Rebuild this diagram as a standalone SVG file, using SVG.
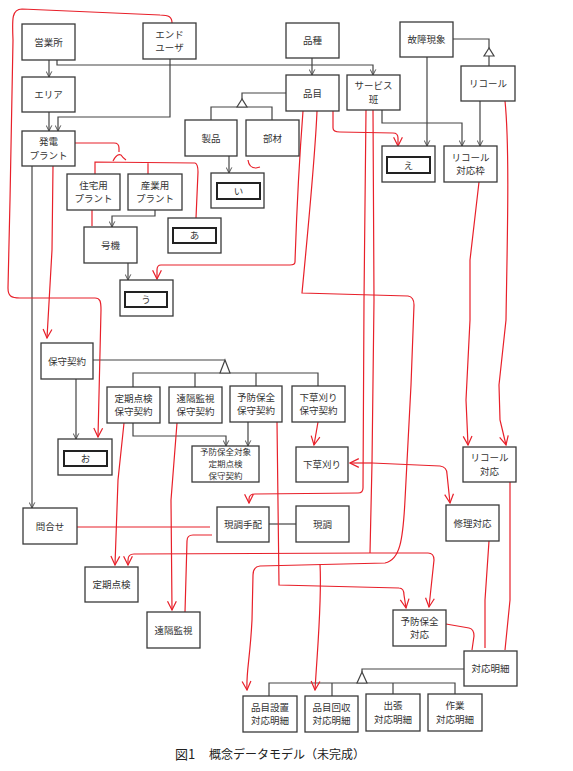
<svg xmlns="http://www.w3.org/2000/svg" width="573" height="771" viewBox="0 0 573 771">
<style>
.b{fill:#fff;stroke:#3a3a3a;stroke-width:1.3}
.in{fill:#fff;stroke:#222;stroke-width:2}
.t{font-family:"Noto Sans CJK JP","Noto Sans",sans-serif;font-size:9.5px;fill:#333;text-anchor:middle}
.t3{font-family:"Noto Sans CJK JP","Noto Sans",sans-serif;font-size:8.5px;fill:#333;text-anchor:middle}
.k{fill:none;stroke:#444;stroke-width:1.2}
.r{fill:none;stroke:#e8202a;stroke-width:1.2}
.tri{fill:#fff;stroke:#444;stroke-width:1.2}
.cap{font-family:"Noto Sans CJK JP","Noto Sans",sans-serif;fill:#222}
</style>
<defs>
<marker id="ab" viewBox="0 0 10 10" refX="9" refY="5" markerWidth="7" markerHeight="7" orient="auto" markerUnits="userSpaceOnUse"><path d="M1,1 L9,5 L1,9" fill="none" stroke="#444" stroke-width="1.3"/></marker>
<marker id="ar" viewBox="0 0 10 10" refX="9" refY="5" markerWidth="11" markerHeight="11" orient="auto" markerUnits="userSpaceOnUse"><path d="M1,1 L9,5 L1,9" fill="none" stroke="#e8202a" stroke-width="1.1"/></marker>
</defs>
<rect width="573" height="771" fill="#fff"/>

<g id="connectors">
<!-- black -->
<path class="k" d="M49,60 V77" marker-end="url(#ab)"/>
<path class="k" d="M57,60 V65 H373 V75" marker-end="url(#ab)"/>
<path class="k" d="M312,58 V75" marker-end="url(#ab)"/>
<path class="k" d="M170,59 V117 H58 V131" marker-end="url(#ab)"/>
<path class="k" d="M49,112 V131" marker-end="url(#ab)"/>
<path class="k" d="M32,166 V508" marker-end="url(#ab)"/>
<path class="k" d="M427,57 V146" marker-end="url(#ab)"/>
<path class="k" d="M453,39 H489 V48 M489,56 V66"/>
<polygon class="tri" points="489,48 484,56 494,56"/>
<path class="k" d="M480,101 V146" marker-end="url(#ab)"/>
<path class="k" d="M382,110 V123 H462 V146" marker-end="url(#ab)"/>
<path class="k" d="M286,93 H242 V99 M211,120 V107 H272 V120"/>
<polygon class="tri" points="242,99 237,107 247,107"/>
<path class="k" d="M229,156 V173" marker-end="url(#ab)"/>
<path class="k" d="M155,210 V216 H112 V227" marker-end="url(#ab)"/>
<path class="k" d="M128,263 V280" marker-end="url(#ab)"/>
<path class="k" d="M93,360 H225 M133,387 V373 H318 V386 M195,373 V387 M256,373 V386"/>
<polygon class="tri" points="225,360 220,373 230,373"/>
<path class="k" d="M76,379 V439" marker-end="url(#ab)"/>
<path class="k" d="M248,422 V446" marker-end="url(#ab)"/>
<path class="k" d="M133,423 V436 H226 V446" marker-end="url(#ab)"/>
<path class="k" d="M269,524 H296"/>
<path class="k" d="M464,669 H362 V672 M269,696 V683 H455 V694 M332,683 V696 M393,683 V694"/>
<polygon class="tri" points="362,672 357,683 367,683"/>

<!-- red -->
<path class="r" d="M172,23 C172,17 169,15 160,15 L22,9 C12,9 12,18 13,40 L10,200 L8,288 C8,296 11,298 20,298 L95,298 C100,298 101,301 101,310 L98,437" marker-end="url(#ar)"/>
<path class="r" d="M75,143 L114,143 Q119,143 119,148 L119,152"/>
<path class="r" d="M113,161 Q117,153 121,155 Q123,158 126,160"/>
<path class="r" d="M95,174 V162 L195,163 Q198,164 198,172 L196,218 M148,162 V174"/>
<path class="r" d="M92,210 V226"/>
<path class="r" d="M53,166 L52,250 L47,338" marker-end="url(#ar)"/>
<path class="r" d="M303,111 C300,150 297,200 295,262 Q295,265 290,265 L161,265 Q157,265 157,270 L157,279" marker-end="url(#ar)"/>
<path class="r" d="M317,111 C315,160 306,250 302,293 L408,296 Q414,297 414,305 L411,385 L405,500 C403,540 400,560 385,563 L260,566 Q253,567 253,575 L252,620 C250,660 246,672 247,690" marker-end="url(#ar)"/>
<path class="r" d="M320,564 C322,600 318,640 315,690" marker-end="url(#ar)"/>
<path class="r" d="M333,111 L333,128 Q333,132 340,132 L393,133 Q398,133 398,138 L398,146" marker-end="url(#ar)"/>
<path class="r" d="M366,110 L364,300 L363,488 Q363,493 358,493 L255,494 Q249,494 249,499 L249,503" marker-end="url(#ar)"/>
<path class="r" d="M373,110 L374,300 L372,463 L370,553"/>
<path class="r" d="M370,553 L134,554 Q128,554 128,560 L128,565" marker-end="url(#ar)"/>
<path class="r" d="M370,553 L428,553 Q434,553 434,560 L429,607" marker-end="url(#ar)"/>
<path class="r" d="M372,463 L350,463" marker-end="url(#ar)"/>
<path class="r" d="M372,463 L440,466 Q447,467 447,474 L450,503" marker-end="url(#ar)"/>
<path class="r" d="M124,423 L118,480 L115,565" marker-end="url(#ar)"/>
<path class="r" d="M177,423 L171,500 L172,610" marker-end="url(#ar)"/>
<path class="r" d="M185,612 L187,541 Q187,535 193,535 L212,535"/>
<path class="r" d="M77,527 L210,527"/>
<path class="r" d="M318,422 L314,445" marker-end="url(#ar)"/>
<path class="r" d="M277,422 L279,585 L399,588 Q404,588 404,595 L406,608" marker-end="url(#ar)"/>
<path class="r" d="M479,182 L470,260 L470,320 L466,400 L468,445" marker-end="url(#ar)"/>
<path class="r" d="M505,101 C510,150 507,250 506,320 L499,385 L500,420 L506,445" marker-end="url(#ar)"/>
<path class="r" d="M510,482 L510,600 L505,650"/>
<path class="r" d="M489,541 L485,600 L485,648"/>
<path class="r" d="M446,624 L469,628 Q474,629 474,636 L472,650"/>
<path class="r" d="M248,160 Q249,168 256,168 L260,167"/>
</g>

<g id="n-eigyosho"><rect class="b" x="22" y="24" width="53" height="36"/><text class="t" x="48.5" y="45.5">営業所</text></g>
<g id="n-enduser"><rect class="b" x="143" y="23" width="53" height="36"/><text class="t" x="169.5" y="37.5">エンド</text><text class="t" x="169.5" y="51">ユーザ</text></g>
<g id="n-area"><rect class="b" x="22" y="77" width="53" height="35"/><text class="t" x="48.5" y="98">エリア</text></g>
<g id="n-plant"><rect class="b" x="22" y="131" width="53" height="35"/><text class="t" x="48.5" y="145">発電</text><text class="t" x="48.5" y="158.5">プラント</text></g>
<g id="n-hinshu"><rect class="b" x="286" y="23" width="53" height="35"/><text class="t" x="312.5" y="44">品種</text></g>
<g id="n-hinmoku"><rect class="b" x="286" y="75" width="53" height="36"/><text class="t" x="312.5" y="96.5">品目</text></g>
<g id="n-service"><rect class="b" x="347" y="75" width="53" height="35"/><text class="t" x="373.5" y="89">サービス</text><text class="t" x="373.5" y="102.5">班</text></g>
<g id="n-kosho"><rect class="b" x="400" y="22" width="53" height="35"/><text class="t" x="426.5" y="43">故障現象</text></g>
<g id="n-recall"><rect class="b" x="461" y="66" width="54" height="35"/><text class="t" x="488" y="87">リコール</text></g>
<g id="n-seihin"><rect class="b" x="185" y="120" width="52" height="36"/><text class="t" x="211" y="141.5">製品</text></g>
<g id="n-buzai"><rect class="b" x="246" y="120" width="53" height="36"/><text class="t" x="272.5" y="141.5">部材</text></g>
<g id="n-i"><rect class="b" x="211" y="173" width="53" height="35"/><rect class="in" x="217" y="183" width="43" height="16"/><text class="t" x="238.5" y="194.5">い</text></g>
<g id="n-e"><rect class="b" x="382" y="146" width="53" height="36"/><rect class="in" x="387" y="157" width="43" height="16"/><text class="t" x="408.5" y="168.5">え</text></g>
<g id="n-recallwaku"><rect class="b" x="444" y="146" width="53" height="36"/><text class="t" x="470.5" y="160.5">リコール</text><text class="t" x="470.5" y="174">対応枠</text></g>
<g id="n-jutaku"><rect class="b" x="67" y="174" width="53" height="36"/><text class="t" x="93.5" y="188.5">住宅用</text><text class="t" x="93.5" y="202">プラント</text></g>
<g id="n-sangyo"><rect class="b" x="128" y="174" width="54" height="36"/><text class="t" x="155" y="188.5">産業用</text><text class="t" x="155" y="202">プラント</text></g>
<g id="n-a"><rect class="b" x="168" y="218" width="53" height="35"/><rect class="in" x="173" y="228" width="43" height="15"/><text class="t" x="194.5" y="239">あ</text></g>
<g id="n-goki"><rect class="b" x="84" y="227" width="53" height="36"/><text class="t" x="110.5" y="248.5">号機</text></g>
<g id="n-u"><rect class="b" x="120" y="280" width="53" height="36"/><rect class="in" x="125" y="292" width="42" height="15"/><text class="t" x="146" y="303">う</text></g>
<g id="n-hoshu"><rect class="b" x="41" y="343" width="52" height="36"/><text class="t" x="67" y="364.5">保守契約</text></g>
<g id="n-teiki-k"><rect class="b" x="107" y="387" width="53" height="36"/><text class="t" x="133.5" y="401.5">定期点検</text><text class="t" x="133.5" y="415">保守契約</text></g>
<g id="n-enkaku-k"><rect class="b" x="169" y="387" width="53" height="36"/><text class="t" x="195.5" y="401.5">遠隔監視</text><text class="t" x="195.5" y="415">保守契約</text></g>
<g id="n-yobo-k"><rect class="b" x="230" y="386" width="52" height="36"/><text class="t" x="256" y="400.5">予防保全</text><text class="t" x="256" y="414">保守契約</text></g>
<g id="n-shitakusa-k"><rect class="b" x="292" y="386" width="53" height="36"/><text class="t" x="318.5" y="400.5">下草刈り</text><text class="t" x="318.5" y="414">保守契約</text></g>
<g id="n-o"><rect class="b" x="58" y="439" width="54" height="36"/><rect class="in" x="64" y="451" width="43" height="15"/><text class="t" x="85.5" y="462">お</text></g>
<g id="n-yobotaisho"><rect class="b" x="192" y="446" width="67" height="36"/><text class="t3" x="225.5" y="454.7">予防保全対象</text><text class="t3" x="225.5" y="467">定期点検</text><text class="t3" x="225.5" y="479.3">保守契約</text></g>
<g id="n-shitakusa"><rect class="b" x="296" y="447" width="52" height="35"/><text class="t" x="322" y="468">下草刈り</text></g>
<g id="n-recalltaio"><rect class="b" x="463" y="447" width="53" height="35"/><text class="t" x="489.5" y="461">リコール</text><text class="t" x="489.5" y="474.5">対応</text></g>
<g id="n-toiawase"><rect class="b" x="23" y="508" width="54" height="36"/><text class="t" x="50" y="529.5">問合せ</text></g>
<g id="n-genchotehai"><rect class="b" x="217" y="507" width="52" height="35"/><text class="t" x="243" y="528">現調手配</text></g>
<g id="n-gencho"><rect class="b" x="296" y="506" width="53" height="36"/><text class="t" x="322.5" y="527.5">現調</text></g>
<g id="n-shuri"><rect class="b" x="446" y="505" width="53" height="36"/><text class="t" x="472.5" y="526.5">修理対応</text></g>
<g id="n-teiki"><rect class="b" x="85" y="567" width="53" height="35"/><text class="t" x="111.5" y="588">定期点検</text></g>
<g id="n-enkaku"><rect class="b" x="147" y="612" width="53" height="36"/><text class="t" x="173.5" y="633.5">遠隔監視</text></g>
<g id="n-yobotaio"><rect class="b" x="393" y="610" width="53" height="36"/><text class="t" x="419.5" y="624.5">予防保全</text><text class="t" x="419.5" y="638">対応</text></g>
<g id="n-taiomeisai"><rect class="b" x="464" y="651" width="53" height="35"/><text class="t" x="490.5" y="672">対応明細</text></g>
<g id="n-setchi"><rect class="b" x="243" y="696" width="54" height="36"/><text class="t" x="270" y="710.5">品目設置</text><text class="t" x="270" y="724">対応明細</text></g>
<g id="n-kaishu"><rect class="b" x="305" y="696" width="53" height="36"/><text class="t" x="331.5" y="710.5">品目回収</text><text class="t" x="331.5" y="724">対応明細</text></g>
<g id="n-shutcho"><rect class="b" x="366" y="694" width="54" height="37"/><text class="t" x="393" y="709">出張</text><text class="t" x="393" y="722.5">対応明細</text></g>
<g id="n-sagyo"><rect class="b" x="428" y="694" width="54" height="37"/><text class="t" x="455" y="709">作業</text><text class="t" x="455" y="722.5">対応明細</text></g>

<g id="caption"><text class="cap" x="175" y="759" font-size="13">図1</text><text class="cap" x="209" y="759" font-size="12">概念データモデル（未完成）</text></g>
</svg>
